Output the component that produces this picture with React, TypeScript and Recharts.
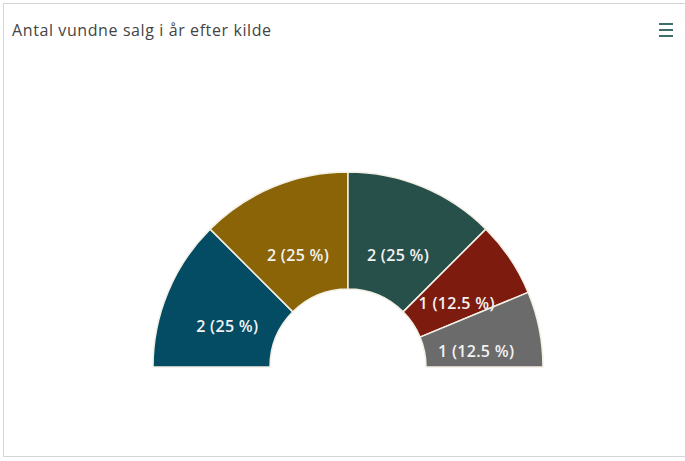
import React from 'react'
import {Cell, Pie, PieChart} from 'recharts'

// Antal vundne salg i år efter kilde
const sources = ['Kilde A', 'Kilde B', 'Kilde C', 'Kilde D', 'Kilde E']
const wonSales = [2, 2, 2, 1, 1]
const colors = ['#034c63', '#8a6407', '#28504b', '#7c1b0e', '#6b6b6b']

const data = sources.map((name, i) => ({name, value: wonSales[i]}))
const total = wonSales.reduce((a, b) => a + b, 0)

const RADIAN = Math.PI / 180

const renderLabel = (props: any) => {
  const {cx, cy, midAngle, innerRadius, outerRadius, value} = props
  const r = innerRadius + (outerRadius - innerRadius) * 0.45
  const x = cx + r * Math.cos(-midAngle * RADIAN)
  const y = cy + r * Math.sin(-midAngle * RADIAN)
  const pct = Math.round((value / total) * 1000) / 10
  return (
    <text
      x={x}
      y={y + 9}
      fill="#f2f2f2"
      textAnchor="middle"
      dominantBaseline="central"
      style={{fontSize: 16, fontWeight: 600, letterSpacing: 0.3, fontFamily: '"Open Sans", sans-serif'}}
    >
      {`${value} (${pct} %)`}
    </text>
  )
}

const App = () => {
  return (
    <div
      style={{
        position: 'absolute',
        left: 0,
        top: 0,
        width: 685,
        height: 461,
        overflow: 'hidden',
        background: '#fff',
        fontFamily: '"Open Sans", sans-serif',
      }}
    >
      <div
        style={{
          position: 'absolute',
          left: 3,
          top: 3,
          width: 700,
          height: 452,
          border: '1px solid #d6d6d6',
        }}
      />
      <div
        style={{
          position: 'absolute',
          left: 12,
          top: 19,
          fontSize: 16,
          letterSpacing: 0.6,
          color: '#444',
        }}
      >
        Antal vundne salg i år efter kilde
      </div>
      <div style={{position: 'absolute', left: 659, top: 23, width: 14}}>
        {[0, 1, 2].map((i) => (
          <div key={i} style={{height: 1.5, background: '#3e6e69', marginBottom: 4.5}} />
        ))}
      </div>
      <PieChart
        width={685}
        height={461}
        margin={{top: 0, right: 0, bottom: 0, left: 0}}
        style={{position: 'absolute', left: 0, top: 0}}
      >
        <Pie
          data={data}
          dataKey="value"
          nameKey="name"
          cx={348}
          cy={367}
          startAngle={180}
          endAngle={0}
          innerRadius={78}
          outerRadius={195}
          stroke="#f3f0e6"
          strokeWidth={1.5}
          label={renderLabel}
          labelLine={false}
          isAnimationActive={false}
        >
          {data.map((d, i) => (
            <Cell key={d.name} fill={colors[i]} />
          ))}
        </Pie>
      </PieChart>
    </div>
  )
}

export default App
